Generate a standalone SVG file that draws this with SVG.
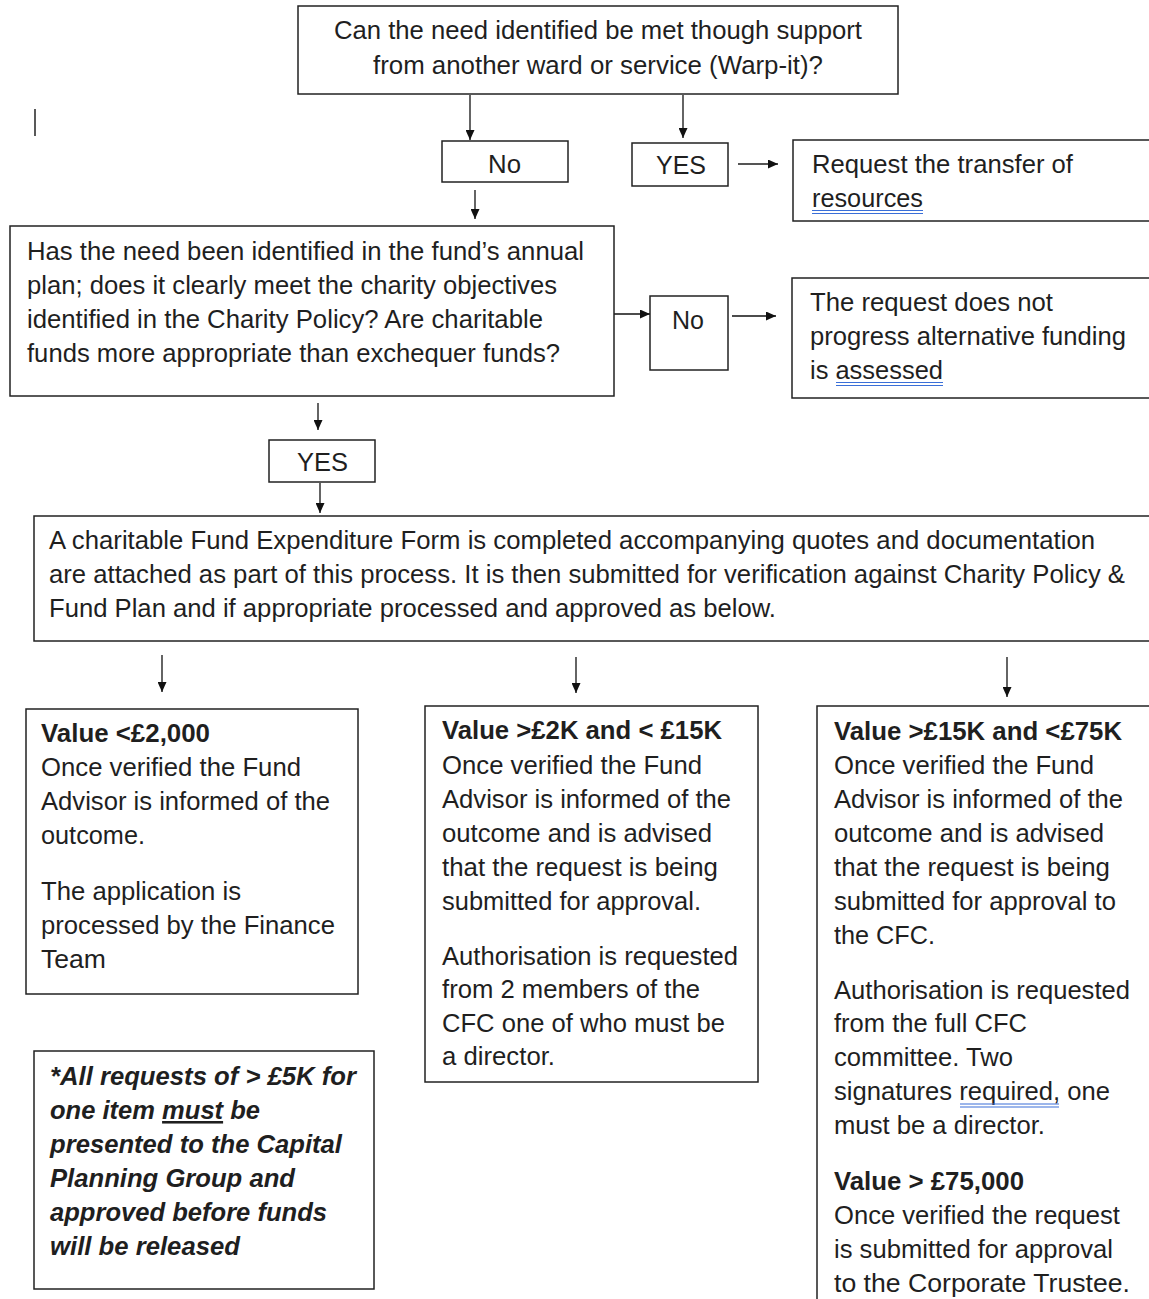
<svg xmlns="http://www.w3.org/2000/svg" width="1149" height="1299" viewBox="0 0 1149 1299">
<style>
.t{font-family:"Liberation Sans",Arial,sans-serif;font-size:25.5px;fill:#1f1f1f}
.b{font-weight:bold}
.bi{font-weight:bold;font-style:italic}
.box{fill:#fff;stroke:#222;stroke-width:1.5}
.c{stroke:#111;stroke-width:1.3;fill:none;marker-end:url(#ah)}
.sp{stroke:#3a6fd8;stroke-width:1.2}
</style>
<defs>
<marker id="ah" markerUnits="userSpaceOnUse" markerWidth="10" markerHeight="9" refX="10" refY="4.5" orient="auto">
<path d="M0,0 L10,4.5 L0,9 z" fill="#111"/>
</marker>
</defs>
<rect width="1149" height="1299" fill="#fff"/>
<line x1="35" y1="109" x2="35" y2="136" stroke="#222" stroke-width="1.5"/>

<g id="connectors">
<line class="c" x1="470" y1="95" x2="470" y2="140"/>
<line class="c" x1="683" y1="95" x2="683" y2="138"/>
<line class="c" x1="738" y1="164" x2="778" y2="164" style="stroke:#555;stroke-width:2"/>
<line class="c" x1="475" y1="190" x2="475" y2="219"/>
<line class="c" x1="614" y1="314" x2="650" y2="314"/>
<line class="c" x1="732" y1="316" x2="776" y2="316"/>
<line class="c" x1="318" y1="403" x2="318" y2="430"/>
<line class="c" x1="320" y1="483" x2="320" y2="513"/>
<line class="c" x1="162" y1="655" x2="162" y2="692"/>
<line class="c" x1="576" y1="657" x2="576" y2="693"/>
<line class="c" x1="1007" y1="657" x2="1007" y2="697"/>
</g>

<g id="q1">
<rect class="box" x="298" y="6" width="600" height="88"/>
<text class="t" x="334" y="39" textLength="528" lengthAdjust="spacingAndGlyphs">Can the need identified be met though support</text>
<text class="t" x="373" y="74" textLength="450" lengthAdjust="spacingAndGlyphs">from another ward or service (Warp-it)?</text>
</g>

<g id="no1">
<rect class="box" x="442" y="141" width="126" height="41"/>
<text class="t" x="488" y="173" textLength="33" lengthAdjust="spacingAndGlyphs">No</text>
</g>

<g id="yes1">
<rect class="box" x="632" y="143" width="96" height="43"/>
<text class="t" x="656" y="174" textLength="50" lengthAdjust="spacingAndGlyphs">YES</text>
</g>

<g id="transfer">
<rect class="box" x="793" y="140" width="370" height="81"/>
<text class="t" x="812" y="173" textLength="261" lengthAdjust="spacingAndGlyphs">Request the transfer of</text>
<text class="t" x="812" y="207" textLength="111" lengthAdjust="spacingAndGlyphs">resources</text>
<line class="sp" x1="812" y1="210.5" x2="923" y2="210.5"/>
<line class="sp" x1="812" y1="213.5" x2="923" y2="213.5"/>
</g>

<g id="q2">
<rect class="box" x="10" y="226" width="604" height="170"/>
<text class="t" x="27" y="260" textLength="557" lengthAdjust="spacingAndGlyphs">Has the need been identified in the fund’s annual</text>
<text class="t" x="27" y="294" textLength="530" lengthAdjust="spacingAndGlyphs">plan; does it clearly meet the charity objectives</text>
<text class="t" x="27" y="328" textLength="516" lengthAdjust="spacingAndGlyphs">identified in the Charity Policy? Are charitable</text>
<text class="t" x="27" y="362" textLength="533" lengthAdjust="spacingAndGlyphs">funds more appropriate than exchequer funds?</text>
</g>

<g id="no2">
<rect class="box" x="650" y="296" width="78" height="74"/>
<text class="t" x="672" y="329" textLength="32" lengthAdjust="spacingAndGlyphs">No</text>
</g>

<g id="noprogress">
<rect class="box" x="792" y="278" width="370" height="120"/>
<text class="t" x="810" y="311" textLength="243" lengthAdjust="spacingAndGlyphs">The request does not</text>
<text class="t" x="810" y="345" textLength="316" lengthAdjust="spacingAndGlyphs">progress alternative funding</text>
<text class="t" x="810" y="379" textLength="133" lengthAdjust="spacingAndGlyphs">is assessed</text>
<line class="sp" x1="836" y1="382.5" x2="943" y2="382.5"/>
<line class="sp" x1="836" y1="385.5" x2="943" y2="385.5"/>
</g>

<g id="yes2">
<rect class="box" x="269" y="440" width="106" height="42"/>
<text class="t" x="297" y="471" textLength="51" lengthAdjust="spacingAndGlyphs">YES</text>
</g>

<g id="form">
<rect class="box" x="34" y="516" width="1130" height="125"/>
<text class="t" x="49" y="549" textLength="1046" lengthAdjust="spacingAndGlyphs">A charitable Fund Expenditure Form is completed accompanying quotes and documentation</text>
<text class="t" x="49" y="583" textLength="1076" lengthAdjust="spacingAndGlyphs">are attached as part of this process. It is then submitted for verification against Charity Policy &amp;</text>
<text class="t" x="49" y="617" textLength="727" lengthAdjust="spacingAndGlyphs">Fund Plan and if appropriate processed and approved as below.</text>
</g>

<g id="v2000">
<rect class="box" x="26" y="709" width="332" height="285"/>
<text class="t b" x="41" y="742" textLength="169" lengthAdjust="spacingAndGlyphs">Value &lt;£2,000</text>
<text class="t" x="41" y="776" textLength="260" lengthAdjust="spacingAndGlyphs">Once verified the Fund</text>
<text class="t" x="41" y="810" textLength="289" lengthAdjust="spacingAndGlyphs">Advisor is informed of the</text>
<text class="t" x="41" y="844" textLength="104" lengthAdjust="spacingAndGlyphs">outcome.</text>
<text class="t" x="41" y="900" textLength="200" lengthAdjust="spacingAndGlyphs">The application is</text>
<text class="t" x="41" y="934" textLength="294" lengthAdjust="spacingAndGlyphs">processed by the Finance</text>
<text class="t" x="41" y="968" textLength="65" lengthAdjust="spacingAndGlyphs">Team</text>
</g>

<g id="note">
<rect class="box" x="34" y="1051" width="340" height="238"/>
<text class="t bi" x="50" y="1085" textLength="306" lengthAdjust="spacingAndGlyphs">*All requests of &gt; £5K for</text>
<text class="t bi" x="50" y="1119" textLength="210" lengthAdjust="spacingAndGlyphs">one item <tspan text-decoration="underline">must</tspan> be</text>
<text class="t bi" x="50" y="1153" textLength="292" lengthAdjust="spacingAndGlyphs">presented to the Capital</text>
<text class="t bi" x="50" y="1187" textLength="245" lengthAdjust="spacingAndGlyphs">Planning Group and</text>
<text class="t bi" x="50" y="1221" textLength="277" lengthAdjust="spacingAndGlyphs">approved before funds</text>
<text class="t bi" x="50" y="1255" textLength="190" lengthAdjust="spacingAndGlyphs">will be released</text>
</g>

<g id="v15k">
<rect class="box" x="425" y="706" width="333" height="376"/>
<text class="t b" x="442" y="739" textLength="280" lengthAdjust="spacingAndGlyphs">Value &gt;£2K and &lt; £15K</text>
<text class="t" x="442" y="774" textLength="260" lengthAdjust="spacingAndGlyphs">Once verified the Fund</text>
<text class="t" x="442" y="808" textLength="289" lengthAdjust="spacingAndGlyphs">Advisor is informed of the</text>
<text class="t" x="442" y="842" textLength="270" lengthAdjust="spacingAndGlyphs">outcome and is advised</text>
<text class="t" x="442" y="876" textLength="276" lengthAdjust="spacingAndGlyphs">that the request is being</text>
<text class="t" x="442" y="910" textLength="259" lengthAdjust="spacingAndGlyphs">submitted for approval.</text>
<text class="t" x="442" y="965" textLength="296" lengthAdjust="spacingAndGlyphs">Authorisation is requested</text>
<text class="t" x="442" y="998" textLength="258" lengthAdjust="spacingAndGlyphs">from 2 members of the</text>
<text class="t" x="442" y="1032" textLength="283" lengthAdjust="spacingAndGlyphs">CFC one of who must be</text>
<text class="t" x="442" y="1065" textLength="113" lengthAdjust="spacingAndGlyphs">a director.</text>
</g>

<g id="v75k">
<rect class="box" x="817" y="706" width="350" height="610"/>
<text class="t b" x="834" y="740" textLength="288" lengthAdjust="spacingAndGlyphs">Value &gt;£15K and &lt;£75K</text>
<text class="t" x="834" y="774" textLength="260" lengthAdjust="spacingAndGlyphs">Once verified the Fund</text>
<text class="t" x="834" y="808" textLength="289" lengthAdjust="spacingAndGlyphs">Advisor is informed of the</text>
<text class="t" x="834" y="842" textLength="270" lengthAdjust="spacingAndGlyphs">outcome and is advised</text>
<text class="t" x="834" y="876" textLength="276" lengthAdjust="spacingAndGlyphs">that the request is being</text>
<text class="t" x="834" y="910" textLength="282" lengthAdjust="spacingAndGlyphs">submitted for approval to</text>
<text class="t" x="834" y="944" textLength="101" lengthAdjust="spacingAndGlyphs">the CFC.</text>
<text class="t" x="834" y="999" textLength="296" lengthAdjust="spacingAndGlyphs">Authorisation is requested</text>
<text class="t" x="834" y="1032" textLength="193" lengthAdjust="spacingAndGlyphs">from the full CFC</text>
<text class="t" x="834" y="1066" textLength="179" lengthAdjust="spacingAndGlyphs">committee. Two</text>
<text class="t" x="834" y="1100" textLength="276" lengthAdjust="spacingAndGlyphs">signatures required, one</text>
<line class="sp" x1="960" y1="1104" x2="1059" y2="1104"/>
<line class="sp" x1="960" y1="1107" x2="1059" y2="1107"/>
<text class="t" x="834" y="1134" textLength="211" lengthAdjust="spacingAndGlyphs">must be a director.</text>
<text class="t b" x="834" y="1190" textLength="190" lengthAdjust="spacingAndGlyphs">Value &gt; £75,000</text>
<text class="t" x="834" y="1224" textLength="286" lengthAdjust="spacingAndGlyphs">Once verified the request</text>
<text class="t" x="834" y="1258" textLength="279" lengthAdjust="spacingAndGlyphs">is submitted for approval</text>
<text class="t" x="834" y="1292" textLength="296" lengthAdjust="spacingAndGlyphs">to the Corporate Trustee.</text>
</g>
</svg>
